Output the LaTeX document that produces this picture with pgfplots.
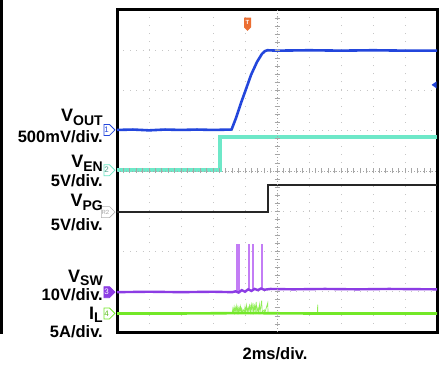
\documentclass[border=0pt]{standalone}
\usepackage{pgfplots}
\pgfplotsset{compat=1.18}
\usepackage{fontspec}
\setmainfont{Liberation Sans}
\usetikzlibrary{shapes.symbols,shapes.geometric}
\definecolor{cblue}{RGB}{35,70,220}
\definecolor{ccyan}{RGB}{110,232,200}
\definecolor{cpurple}{RGB}{140,60,228}
\definecolor{cspike}{RGB}{195,125,245}
\definecolor{cgreen}{RGB}{115,232,40}
\definecolor{corange}{RGB}{235,110,50}
\newcommand{\chlab}[3]{\node[anchor=base east,inner sep=0pt,font=\bfseries] at (103,#1) {\fontsize{18}{18}\selectfont #2\raisebox{-3.5pt}{\fontsize{14}{14}\selectfont #3}};}
\newcommand{\divlab}[2]{\node[anchor=base east,inner sep=0pt,font=\bfseries] at (103,#1) {\fontsize{16.5}{16.5}\selectfont #2};}
\begin{document}
\begin{tikzpicture}[x=1pt,y=1pt]
\path[use as bounding box] (0,0) rectangle (441,364);
\fill[white] (0,0) rectangle (441,364);
\begin{axis}[at={(117pt,32pt)}, anchor=south west, scale only axis,
  width=320pt, height=322pt, xmin=0, xmax=10, ymin=0, ymax=8,
  xtick={0,...,10}, ytick={0,...,8}, xticklabels={}, yticklabels={},
  major tick length=0pt, grid=major,
  major x grid style={gray!45, line width=1pt, dash pattern=on 1pt off 7.05pt},
  major y grid style={gray!45, line width=1pt, dash pattern=on 1pt off 5.4pt},
  axis line style={line width=3pt, black}, clip=false, unbounded coords=jump]
% V_EN (cyan)
\addplot[ccyan, line width=3.5pt, line join=miter] coordinates {(0,4.02) (3.22,4.02) (3.22,4.84) (10,4.84)};
% V_PG (black)
\addplot[black!85, line width=1.3pt] coordinates {(0,2.98) (4.72,2.98) (4.72,3.65) (10,3.65)};
% V_SW spikes
\addplot[cspike, line width=0.7pt] coordinates {
 (3.725,1.02) (3.725,2.17) (3.755,2.17) (3.755,1.02) (nan,nan)
 (3.795,1.02) (3.795,2.17) (3.825,2.17) (3.825,1.02) (nan,nan)
 (4.115,1.03) (4.115,2.17) (4.145,2.17) (4.145,1.03) (nan,nan)
 (4.245,1.04) (4.245,2.17) (4.275,2.17) (4.275,1.04) (nan,nan)
 (4.505,1.05) (4.505,2.17) (4.535,2.17) (4.535,1.05)};
% V_SW (purple)
\addplot[cpurple, line width=2.4pt] coordinates {(0,0.99) (1,1.0) (2,0.99) (3,1.0) (3.6,0.99) (3.7,1.01) (3.8,0.98) (3.9,1.04) (4.0,1.0) (4.1,1.06) (4.2,1.02) (4.3,1.07) (4.4,1.04) (4.5,1.08) (4.6,1.05) (4.8,1.07) (5.5,1.06) (6.5,1.07) (7.5,1.06) (8.5,1.07) (10,1.06)};
% I_L noise
\addplot[cgreen!80!white, line width=0.7pt] coordinates {(3.6,0.47)(3.62,0.58)(3.64,0.5)(3.66,0.62)(3.68,0.49)(3.7,0.6)(3.72,0.52)(3.74,0.64)(3.76,0.5)(3.78,0.61)(3.8,0.49)(3.82,0.6)(3.84,0.52)(3.86,0.63)(3.88,0.5)(3.9,0.58)(3.92,0.49)(3.95,0.55)(3.98,0.5)(4.0,0.62)(4.02,0.49)(4.05,0.66)(4.07,0.5)(4.1,0.6)(4.12,0.5)(4.15,0.7)(4.17,0.5)(4.2,0.67)(4.22,0.51)(4.25,0.72)(4.27,0.5)(4.3,0.65)(4.32,0.52)(4.35,0.75)(4.37,0.5)(4.4,0.6)(4.42,0.5)(4.45,0.68)(4.47,0.5)(4.52,0.78)(4.54,0.49)(4.6,0.55)(4.62,0.48)(4.71,0.72)(4.72,0.47)(nan,nan)(6.265,0.47)(6.27,0.68)(6.275,0.47)};
% I_L (green)
\addplot[cgreen, line width=2.6pt] coordinates {(0,0.46) (2,0.46) (4,0.47) (6,0.46) (8,0.46) (10,0.46)};
% V_OUT (blue)
\addplot[cblue, line width=2.6pt, line join=round] coordinates {(0,5.02) (0.5,5.03) (1,5.01) (1.5,5.03) (2,5.02) (2.5,5.03) (3,5.02) (3.58,5.03) (3.72,5.32) (3.875,5.69) (4.02,6.01) (4.19,6.39) (4.375,6.71) (4.53,6.91) (4.625,6.98) (4.7,7.0) (5,6.99) (6,7.0) (7,6.99) (8,7.0) (9,6.99) (10,6.99)};
% channel markers
\node[signal, signal to=east, draw=cblue, fill=white, text=cblue, line width=0.8pt, minimum width=10pt, minimum height=11pt, inner sep=0.5pt, font=\fontsize{8}{8}\selectfont, anchor=east, xshift=-1.5pt] at (axis cs:0,5.02) {1};
\node[signal, signal to=east, draw=ccyan, fill=white, text=ccyan!70!black, line width=0.8pt, minimum width=10pt, minimum height=11pt, inner sep=0.5pt, font=\fontsize{8}{8}\selectfont, anchor=east, xshift=-1.5pt] at (axis cs:0,4.02) {2};
\node[signal, signal to=east, draw=gray!60, fill=white, text=gray!70, line width=0.6pt, minimum width=10pt, minimum height=11pt, inner sep=0.3pt, font=\fontsize{6}{6}\selectfont, anchor=east, xshift=-1.5pt] at (axis cs:0,2.98) {R2};
\node[signal, signal to=east, draw=cpurple, fill=cpurple, text=white, line width=0.8pt, minimum width=10pt, minimum height=11pt, inner sep=0.5pt, font=\fontsize{8}{8}\selectfont, anchor=east, xshift=-1.5pt] at (axis cs:0,0.99) {3};
\node[signal, signal to=east, draw=cgreen, fill=white, text=cgreen!80!black, line width=0.8pt, minimum width=10pt, minimum height=11pt, inner sep=0.5pt, font=\fontsize{8}{8}\selectfont, anchor=east, xshift=-1.5pt] at (axis cs:0,0.46) {4};
% trigger marker
\node[signal, signal to=south, fill=corange, text=white, minimum width=7pt, minimum height=12pt, inner sep=0.3pt, font=\fontsize{6}{6}\selectfont\bfseries] at (axis cs:4.08,7.69) {T};
\node[isosceles triangle, shape border rotate=180, fill=cblue, minimum width=7pt, minimum height=4pt, inner sep=0pt, isosceles triangle apex angle=70] at (axis cs:9.93,6.14) {};
\end{axis}
% centre cross with ticks
\draw[gray!70, line width=0.9pt, dash pattern=on 1pt off 2pt] (277,32) -- (277,354);
\draw[gray!70, line width=0.9pt, dash pattern=on 1pt off 2pt] (117,193) -- (437,193);
\foreach \k in {1,...,39} {\draw[gray!70, line width=0.8pt] ({277-2.5},{32+\k*8.05}) -- ({277+2.5},{32+\k*8.05});}
\foreach \k in {1,...,49} {\draw[gray!70, line width=0.8pt] ({117+\k*6.4},190.5) -- ({117+\k*6.4},195.5);}
% left vertical bar
\draw[black, line width=3pt] (1.5,364) -- (1.5,30);
% labels
\chlab{242}{V}{OUT}
\divlab{221}{500mV/div.}
\chlab{196}{V}{EN}
\divlab{177}{5V/div.}
\chlab{157}{V}{PG}
\divlab{133}{5V/div.}
\chlab{82}{V}{SW}
\divlab{64}{10V/div.}
\chlab{45}{I}{L}
\divlab{27}{5A/div.}
\node[anchor=base, inner sep=0pt, font=\bfseries] at (275,5) {\fontsize{16.5}{16.5}\selectfont 2ms/div.};
\end{tikzpicture}
\end{document}
